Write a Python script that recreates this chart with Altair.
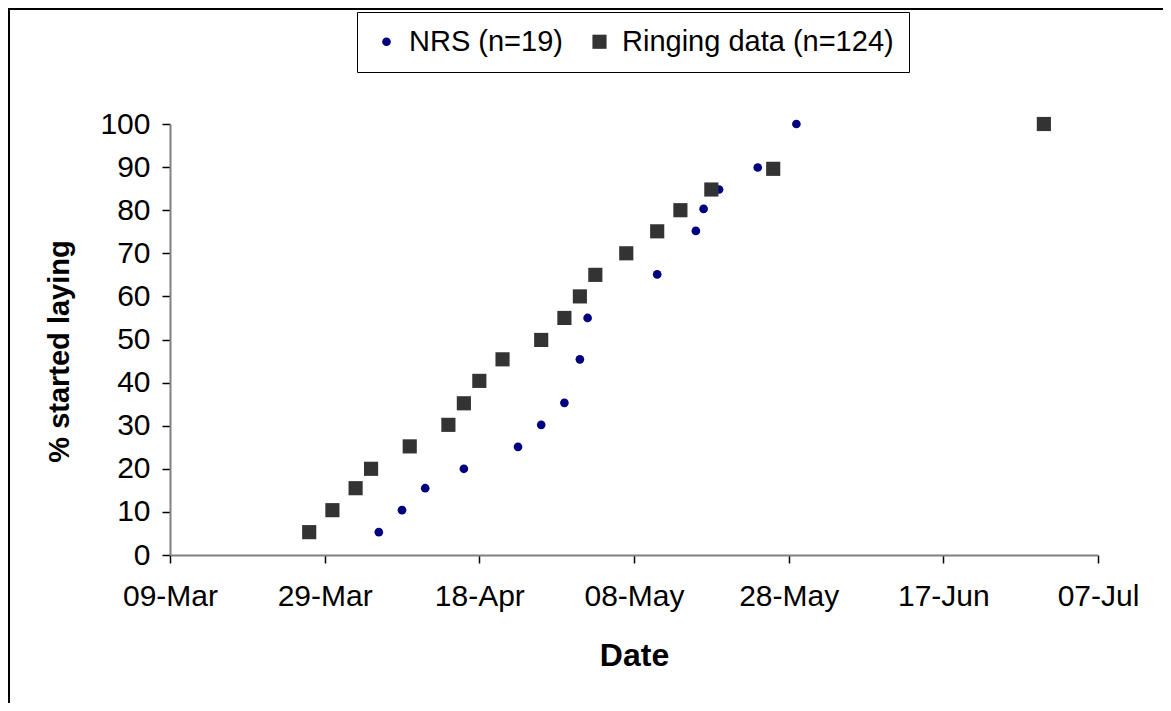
import altair as alt
import pandas as pd

# ---- data ----
nrs_label = "NRS (n=19)"
nrs_dates = ["2007-04-05", "2007-04-08", "2007-04-11", "2007-04-16", "2007-04-23",
             "2007-04-26", "2007-04-29", "2007-05-01", "2007-05-02", "2007-05-11",
             "2007-05-16", "2007-05-17", "2007-05-19", "2007-05-24", "2007-05-29"]
nrs_pct = [5.3, 10.4, 15.5, 20, 25.1, 30.2, 35.3, 45.4, 55, 65.1, 75.2, 80.3, 84.8, 89.9, 100]

ring_label = "Ringing data (n=124)"
ring_dates = ["2007-03-27", "2007-03-30", "2007-04-02", "2007-04-04", "2007-04-09",
              "2007-04-14", "2007-04-16", "2007-04-18", "2007-04-21", "2007-04-26",
              "2007-04-29", "2007-05-01", "2007-05-03", "2007-05-07", "2007-05-11",
              "2007-05-14", "2007-05-18", "2007-05-26", "2007-06-30"]
ring_pct = [5.3, 10.4, 15.5, 20, 25.2, 30.2, 35.2, 40.4, 45.4, 49.9, 55, 60, 65, 70,
            75.1, 80, 84.8, 89.6, 100]

x_ticks = [(3, 9), (3, 29), (4, 18), (5, 8), (5, 28), (6, 17), (7, 7)]
y_ticks = [0, 10, 20, 30, 40, 50, 60, 70, 80, 90, 100]

df = pd.concat([
    pd.DataFrame({"date": nrs_dates, "pct": nrs_pct, "series": nrs_label}),
    pd.DataFrame({"date": ring_dates, "pct": ring_pct, "series": ring_label}),
], ignore_index=True)

FONT = "Liberation Sans"
W, H = 928, 431
PL, PT = 162, 116
PR = 1155 - PL - W
PB = 695 - PT - H

tick_dt = [alt.DateTime(year=2007, month=m, date=d, utc=True) for m, d in x_ticks]

points = alt.Chart(df).mark_point(filled=True, opacity=1).encode(
    x=alt.X("date:T",
            scale=alt.Scale(type="utc", domain=[tick_dt[0], tick_dt[-1]], nice=False),
            axis=alt.Axis(values=tick_dt, format="%d-%b", labelPadding=18,
                          labelFlush=False, labelOverlap=False,
                          titlePadding=29, titleFontSize=32),
            title="Date"),
    y=alt.Y("pct:Q", scale=alt.Scale(domain=[0, 100], nice=False),
            axis=alt.Axis(values=y_ticks, labelPadding=12, titlePadding=25,
                          titleFontSize=29, titleY=227),
            title="% started laying"),
    color=alt.Color("series:N",
                    scale=alt.Scale(domain=[nrs_label, ring_label],
                                    range=["#000080", "#333333"]),
                    legend=alt.Legend(title=None, orient="none", legendX=187, legendY=-112,
                                      direction="horizontal", fillColor="white",
                                      strokeColor="black", padding=15,
                                      labelFontSize=29, labelFont=FONT, labelLimit=600,
                                      labelColor="black", labelOffset=8,
                                      columnPadding=22, symbolStrokeWidth=0)),
    shape=alt.Shape("series:N",
                    scale=alt.Scale(domain=[nrs_label, ring_label],
                                    range=["circle", "square"])),
    size=alt.Size("series:N",
                  scale=alt.Scale(domain=[nrs_label, ring_label], range=[75, 200])),
)

border = alt.Chart(alt.Data(values=[{}])).mark_rect(
    fill="white", fillOpacity=0, stroke="black", strokeWidth=2
).encode(
    x=alt.value(1 - PL), x2=alt.value(1300),
    y=alt.value(1 - PT), y2=alt.value(900),
)

chart = alt.layer(border, points).properties(
    width=W, height=H,
    background="white",
    autosize=alt.AutoSizeParams(type="none"),
    padding={"left": PL, "top": PT, "right": PR, "bottom": PB},
).configure_view(stroke=None).configure_axis(
    grid=False, labelFont=FONT, titleFont=FONT, labelFontSize=30, titleFontSize=28,
    labelColor="black", titleColor="black", titleFontWeight="bold",
    domainColor="#808080", domainWidth=2, tickColor="black", tickWidth=1.5,
    tickSize=8,
)

chart.save("out.html", embed_options={"renderer": "svg", "actions": False})
